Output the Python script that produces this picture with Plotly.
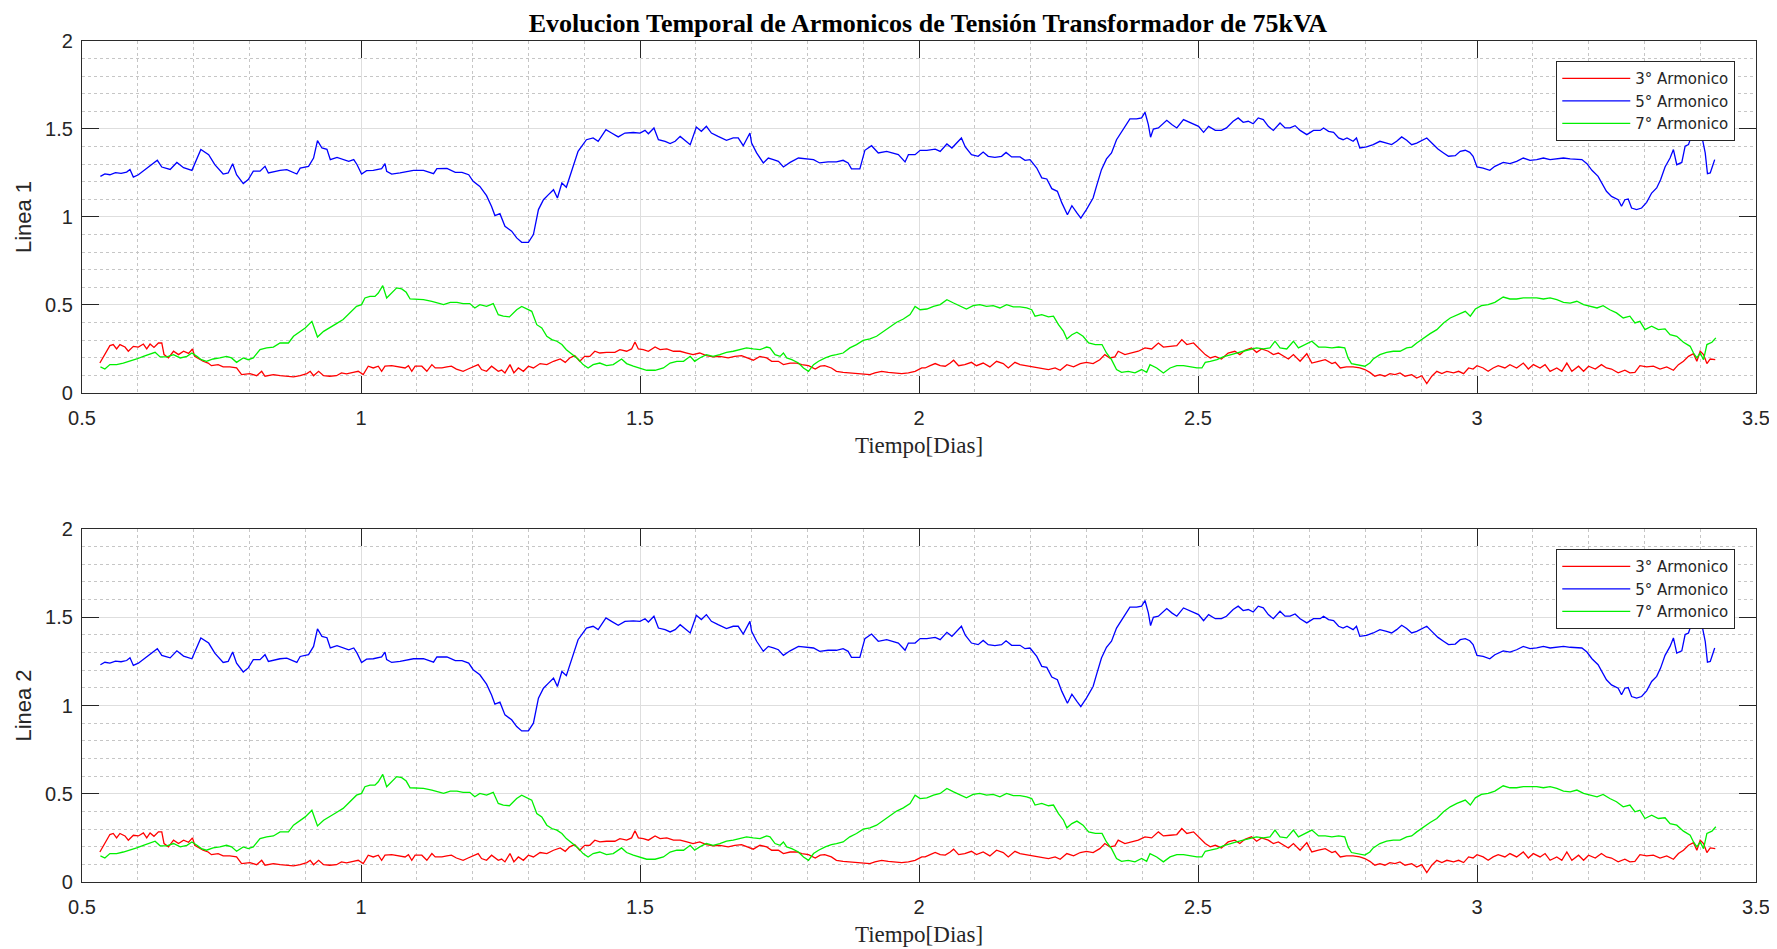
import plotly.graph_objects as go

# ---------------- data ----------------
x5 = [0.533,0.541,0.550,0.560,0.570,0.580,0.586,0.592,0.601,0.615,0.635,0.643,0.658,0.670,0.682,0.697,
      0.713,0.727,0.738,0.753,0.762,0.770,0.777,0.789,0.798,0.807,0.819,0.828,0.834,0.855,0.867,0.885,
      0.891,0.906,0.915,0.922,0.930,0.939,0.945,0.957,0.969,0.978,0.987,0.993,1.001,1.010,1.022,1.037,
      1.043,1.046,1.055,1.070,1.094,1.112,1.130,1.136,1.154,1.169,1.181,1.193,1.201,1.213,1.225,1.234,
      1.240,1.249,1.258,1.266,1.270,1.279,1.288,1.300,1.309,1.318,1.327,1.336,1.345,1.352,1.360,1.368,
      1.377,1.389,1.404,1.416,1.425,1.439,1.449,1.461,1.473,1.488,1.500,1.509,1.515,1.525,1.533,1.545,
      1.554,1.563,1.572,1.581,1.590,1.601,1.610,1.619,1.628,1.640,1.655,1.667,1.676,1.685,1.697,1.700,
      1.709,1.721,1.730,1.739,1.748,1.757,1.769,1.784,1.799,1.811,1.822,1.837,1.852,1.864,1.873,1.879,
      1.894,1.903,1.915,1.927,1.942,1.963,1.975,1.981,1.993,2.002,2.014,2.029,2.038,2.050,2.059,2.068,
      2.076,2.083,2.094,2.106,2.115,2.124,2.136,2.148,2.156,2.166,2.181,2.190,2.199,2.211,2.220,2.229,
      2.238,2.248,2.256,2.266,2.274,2.283,2.290,2.300,2.307,2.312,2.318,2.327,2.336,2.345,2.354,2.366,
      2.378,2.390,2.399,2.405,2.411,2.415,2.420,2.429,2.444,2.453,2.462,2.474,2.483,2.492,2.501,2.510,
      2.519,2.531,2.542,2.551,2.563,2.572,2.581,2.590,2.599,2.608,2.617,2.626,2.635,2.647,2.656,2.665,
      2.674,2.683,2.695,2.707,2.719,2.725,2.734,2.743,2.752,2.760,2.767,2.778,2.784,2.790,2.802,2.814,
      2.826,2.838,2.847,2.856,2.865,2.874,2.883,2.892,2.900,2.910,2.919,2.930,2.940,2.949,2.961,2.970,
      2.979,2.987,2.993,3.000,3.011,3.023,3.032,3.047,3.059,3.071,3.083,3.095,3.107,3.119,3.131,3.143,
      3.155,3.167,3.179,3.188,3.197,3.206,3.217,3.226,3.232,3.241,3.253,3.259,3.265,3.271,3.277,3.286,
      3.295,3.304,3.313,3.322,3.329,3.337,3.346,3.352,3.358,3.367,3.373,3.379,3.385,3.392,3.397,3.403,
      3.409,3.413,3.418,3.422,3.426]
y5 = [1.231,1.245,1.240,1.252,1.248,1.255,1.270,1.227,1.240,1.275,1.322,1.284,1.270,1.310,1.280,1.265,
      1.383,1.354,1.297,1.244,1.250,1.303,1.240,1.190,1.213,1.260,1.260,1.288,1.250,1.265,1.269,1.244,
      1.278,1.288,1.335,1.434,1.392,1.384,1.326,1.339,1.326,1.316,1.326,1.297,1.244,1.263,1.265,1.275,
      1.303,1.260,1.244,1.250,1.265,1.265,1.246,1.275,1.276,1.254,1.254,1.240,1.203,1.174,1.121,1.060,
      1.008,1.019,0.947,0.928,0.919,0.881,0.856,0.856,0.900,1.042,1.098,1.127,1.155,1.108,1.193,1.169,
      1.260,1.373,1.439,1.449,1.430,1.496,1.477,1.455,1.477,1.480,1.477,1.492,1.473,1.506,1.439,1.430,
      1.417,1.430,1.458,1.436,1.411,1.511,1.487,1.515,1.477,1.458,1.436,1.449,1.449,1.405,1.477,1.420,
      1.364,1.307,1.335,1.326,1.316,1.284,1.310,1.335,1.330,1.326,1.307,1.313,1.313,1.322,1.307,1.273,
      1.273,1.379,1.405,1.364,1.373,1.354,1.313,1.354,1.354,1.379,1.379,1.386,1.373,1.415,1.392,1.424,
      1.449,1.398,1.354,1.345,1.369,1.345,1.339,1.345,1.367,1.341,1.341,1.322,1.326,1.278,1.222,1.216,
      1.161,1.146,1.080,1.013,1.064,1.023,0.994,1.042,1.080,1.108,1.174,1.269,1.330,1.364,1.439,1.500,
      1.557,1.557,1.563,1.595,1.525,1.453,1.500,1.506,1.549,1.525,1.506,1.553,1.540,1.525,1.515,1.481,
      1.515,1.492,1.492,1.506,1.544,1.563,1.538,1.544,1.530,1.563,1.553,1.515,1.492,1.534,1.506,1.506,
      1.519,1.492,1.468,1.492,1.492,1.506,1.487,1.481,1.449,1.439,1.449,1.430,1.449,1.392,1.398,1.411,
      1.430,1.420,1.411,1.430,1.455,1.436,1.411,1.420,1.434,1.449,1.420,1.386,1.364,1.345,1.348,1.373,
      1.379,1.367,1.345,1.284,1.278,1.265,1.288,1.310,1.303,1.316,1.335,1.322,1.326,1.335,1.326,1.330,
      1.335,1.330,1.330,1.326,1.303,1.265,1.231,1.184,1.146,1.117,1.098,1.061,1.098,1.102,1.051,1.042,
      1.051,1.083,1.136,1.165,1.212,1.284,1.335,1.383,1.297,1.310,1.402,1.411,1.468,1.520,1.545,1.458,
      1.364,1.246,1.250,1.288,1.326]

x3 = [0.532,0.539,0.550,0.556,0.562,0.568,0.577,0.583,0.592,0.601,0.610,0.616,0.622,0.629,0.637,0.643,
      0.647,0.655,0.664,0.673,0.682,0.691,0.698,0.702,0.709,0.717,0.726,0.732,0.744,0.753,0.765,0.777,
      0.786,0.801,0.813,0.822,0.828,0.843,0.855,0.867,0.879,0.891,0.903,0.909,0.915,0.924,0.933,0.944,
      0.956,0.965,0.974,0.986,0.995,1.004,1.013,1.022,1.031,1.037,1.043,1.055,1.067,1.079,1.085,1.091,
      1.097,1.109,1.118,1.127,1.133,1.145,1.154,1.162,1.171,1.183,1.192,1.201,1.210,1.216,1.225,1.234,
      1.246,1.252,1.258,1.267,1.274,1.282,1.291,1.300,1.309,1.321,1.333,1.345,1.357,1.366,1.374,1.383,
      1.392,1.401,1.410,1.419,1.428,1.440,1.455,1.464,1.476,1.485,1.491,1.497,1.506,1.515,1.527,1.536,
      1.548,1.560,1.572,1.584,1.595,1.607,1.619,1.631,1.643,1.658,1.670,1.682,1.691,1.703,1.715,1.727,
      1.736,1.748,1.757,1.769,1.781,1.790,1.802,1.814,1.823,1.831,1.843,1.852,1.864,1.876,1.888,1.900,
      1.912,1.921,1.933,1.945,1.957,1.969,1.981,1.993,2.005,2.011,2.020,2.029,2.038,2.047,2.056,2.062,
      2.071,2.082,2.094,2.103,2.115,2.127,2.139,2.151,2.160,2.172,2.181,2.193,2.208,2.220,2.232,2.244,
      2.253,2.265,2.277,2.289,2.300,2.312,2.324,2.333,2.342,2.351,2.357,2.369,2.381,2.393,2.405,2.417,
      2.429,2.438,2.450,2.462,2.471,2.480,2.492,2.501,2.513,2.522,2.531,2.542,2.554,2.566,2.575,2.584,
      2.596,2.605,2.614,2.626,2.635,2.644,2.653,2.662,2.671,2.683,2.695,2.704,2.716,2.728,2.740,2.746,
      2.755,2.766,2.778,2.790,2.799,2.808,2.817,2.826,2.835,2.844,2.853,2.862,2.871,2.883,2.892,2.901,
      2.910,2.919,2.928,2.937,2.946,2.958,2.967,2.976,2.985,2.993,3.000,3.011,3.020,3.029,3.038,3.050,
      3.059,3.071,3.083,3.092,3.101,3.113,3.122,3.131,3.143,3.152,3.161,3.170,3.182,3.191,3.200,3.212,
      3.223,3.232,3.241,3.253,3.265,3.274,3.283,3.292,3.304,3.316,3.328,3.340,3.352,3.361,3.370,3.379,
      3.388,3.394,3.400,3.406,3.412,3.418,3.427]
y3 = [0.170,0.208,0.269,0.275,0.250,0.275,0.261,0.237,0.265,0.261,0.278,0.250,0.278,0.259,0.284,0.284,
      0.218,0.199,0.237,0.218,0.237,0.225,0.250,0.208,0.193,0.180,0.170,0.155,0.161,0.148,0.148,0.142,
      0.104,0.110,0.098,0.123,0.095,0.104,0.098,0.095,0.091,0.098,0.110,0.123,0.098,0.123,0.098,0.095,
      0.098,0.114,0.108,0.117,0.123,0.104,0.152,0.142,0.152,0.123,0.152,0.155,0.148,0.142,0.155,0.123,
      0.152,0.152,0.123,0.161,0.142,0.142,0.148,0.152,0.136,0.123,0.136,0.148,0.161,0.133,0.123,0.152,
      0.123,0.130,0.114,0.161,0.114,0.142,0.123,0.152,0.142,0.167,0.161,0.180,0.193,0.174,0.199,0.212,
      0.180,0.208,0.208,0.237,0.227,0.231,0.231,0.246,0.237,0.250,0.290,0.250,0.246,0.237,0.261,0.246,
      0.250,0.237,0.237,0.227,0.218,0.227,0.212,0.205,0.208,0.199,0.208,0.212,0.199,0.186,0.208,0.199,
      0.180,0.180,0.161,0.170,0.170,0.161,0.155,0.136,0.152,0.155,0.142,0.123,0.117,0.114,0.110,0.108,
      0.104,0.114,0.123,0.117,0.114,0.110,0.114,0.123,0.142,0.142,0.155,0.167,0.155,0.152,0.170,0.186,
      0.155,0.161,0.174,0.155,0.170,0.148,0.180,0.167,0.142,0.174,0.161,0.155,0.148,0.142,0.133,0.142,
      0.129,0.161,0.148,0.167,0.174,0.167,0.189,0.218,0.199,0.205,0.237,0.218,0.227,0.237,0.256,0.250,
      0.284,0.261,0.265,0.269,0.303,0.275,0.284,0.256,0.218,0.199,0.208,0.193,0.227,0.237,0.218,0.242,
      0.256,0.231,0.250,0.237,0.218,0.227,0.208,0.193,0.218,0.180,0.223,0.170,0.180,0.189,0.167,0.174,
      0.142,0.148,0.148,0.142,0.133,0.117,0.095,0.104,0.095,0.110,0.104,0.114,0.095,0.104,0.085,0.098,
      0.053,0.095,0.123,0.110,0.123,0.114,0.123,0.110,0.142,0.136,0.155,0.142,0.123,0.142,0.155,0.142,
      0.161,0.142,0.170,0.136,0.161,0.142,0.161,0.123,0.142,0.123,0.170,0.123,0.152,0.123,0.152,0.136,
      0.161,0.142,0.136,0.114,0.129,0.114,0.117,0.155,0.148,0.152,0.136,0.148,0.129,0.161,0.180,0.208,
      0.223,0.180,0.237,0.218,0.167,0.193,0.189]

x7 = [0.533,0.541,0.550,0.562,0.574,0.586,0.598,0.610,0.622,0.631,0.640,0.652,0.664,0.676,0.688,0.697,
      0.706,0.714,0.723,0.735,0.747,0.759,0.768,0.777,0.789,0.798,0.807,0.819,0.831,0.843,0.855,0.870,
      0.879,0.891,0.900,0.912,0.918,0.922,0.933,0.944,0.956,0.968,0.980,0.992,1.001,1.007,1.016,1.025,
      1.031,1.039,1.046,1.055,1.064,1.073,1.081,1.088,1.100,1.112,1.127,1.136,1.148,1.160,1.172,1.183,
      1.195,1.204,1.213,1.225,1.237,1.246,1.255,1.266,1.279,1.288,1.297,1.306,1.315,1.324,1.333,1.342,
      1.351,1.360,1.368,1.377,1.389,1.398,1.407,1.416,1.428,1.440,1.452,1.467,1.476,1.488,1.500,1.512,
      1.527,1.542,1.554,1.566,1.578,1.590,1.598,1.607,1.619,1.631,1.643,1.655,1.667,1.679,1.691,1.703,
      1.715,1.727,1.733,1.742,1.751,1.757,1.763,1.772,1.784,1.793,1.802,1.811,1.820,1.832,1.843,1.852,
      1.864,1.876,1.888,1.900,1.912,1.924,1.936,1.948,1.960,1.972,1.984,1.993,2.002,2.014,2.026,2.038,
      2.050,2.062,2.074,2.085,2.097,2.109,2.121,2.133,2.145,2.157,2.169,2.181,2.193,2.202,2.208,2.220,
      2.232,2.241,2.250,2.259,2.265,2.274,2.283,2.294,2.304,2.316,2.328,2.336,2.345,2.354,2.363,2.375,
      2.387,2.399,2.408,2.414,2.426,2.438,2.450,2.462,2.474,2.486,2.498,2.507,2.513,2.522,2.534,2.545,
      2.557,2.569,2.581,2.593,2.605,2.617,2.629,2.638,2.647,2.659,2.671,2.680,2.692,2.704,2.716,2.728,
      2.740,2.752,2.763,2.769,2.775,2.787,2.799,2.808,2.814,2.826,2.838,2.850,2.862,2.874,2.883,2.892,
      2.904,2.916,2.928,2.940,2.952,2.964,2.979,2.988,2.997,3.008,3.020,3.032,3.047,3.059,3.071,3.083,
      3.095,3.107,3.119,3.131,3.143,3.155,3.167,3.179,3.191,3.203,3.215,3.226,3.238,3.250,3.262,3.274,
      3.283,3.292,3.301,3.313,3.325,3.337,3.346,3.358,3.370,3.382,3.388,3.394,3.400,3.406,3.412,3.421,
      3.428]
y7 = [0.148,0.136,0.161,0.161,0.170,0.180,0.193,0.208,0.223,0.231,0.205,0.205,0.218,0.199,0.208,0.227,
      0.208,0.189,0.180,0.193,0.199,0.208,0.199,0.174,0.199,0.189,0.199,0.246,0.256,0.261,0.284,0.284,
      0.322,0.350,0.369,0.407,0.360,0.318,0.350,0.369,0.394,0.417,0.455,0.492,0.502,0.540,0.549,0.549,
      0.568,0.610,0.540,0.568,0.597,0.591,0.572,0.534,0.534,0.530,0.521,0.511,0.502,0.515,0.515,0.508,
      0.508,0.483,0.502,0.492,0.508,0.445,0.436,0.432,0.473,0.492,0.477,0.464,0.388,0.369,0.322,0.303,
      0.294,0.275,0.246,0.223,0.193,0.161,0.142,0.161,0.170,0.155,0.161,0.193,0.167,0.152,0.142,0.129,
      0.129,0.142,0.170,0.180,0.180,0.208,0.180,0.199,0.218,0.208,0.218,0.231,0.237,0.246,0.256,0.250,
      0.246,0.261,0.256,0.218,0.208,0.227,0.199,0.189,0.170,0.142,0.123,0.161,0.180,0.199,0.212,0.218,
      0.227,0.256,0.275,0.299,0.307,0.322,0.350,0.379,0.402,0.420,0.445,0.492,0.473,0.477,0.492,0.502,
      0.530,0.511,0.492,0.477,0.496,0.502,0.492,0.496,0.483,0.502,0.489,0.489,0.483,0.473,0.436,0.445,
      0.432,0.436,0.388,0.350,0.307,0.331,0.345,0.322,0.284,0.275,0.275,0.227,0.189,0.133,0.117,0.123,
      0.114,0.133,0.117,0.161,0.142,0.114,0.142,0.155,0.155,0.148,0.142,0.142,0.174,0.180,0.189,0.205,
      0.218,0.227,0.237,0.246,0.256,0.250,0.256,0.294,0.256,0.250,0.294,0.256,0.275,0.294,0.261,0.261,
      0.256,0.261,0.256,0.199,0.167,0.161,0.152,0.170,0.193,0.218,0.231,0.237,0.237,0.256,0.261,0.284,
      0.313,0.337,0.360,0.398,0.426,0.445,0.464,0.436,0.477,0.496,0.502,0.515,0.545,0.534,0.534,0.540,
      0.540,0.540,0.534,0.540,0.530,0.515,0.511,0.521,0.502,0.492,0.483,0.496,0.473,0.455,0.426,0.436,
      0.398,0.407,0.360,0.379,0.360,0.364,0.331,0.322,0.288,0.265,0.227,0.199,0.227,0.189,0.275,0.288,
      0.313]

series_names = ["3° Armonico", "5° Armonico", "7° Armonico"]
series_colors = ["#ff0000", "#0000ff", "#00f000"]
title_text = "Evolucion Temporal de Armonicos de Tensión Transformador de 75kVA"
x_title = "Tiempo[Dias]"
y_titles = ["Linea 1", "Linea 2"]

# ---------------- figure ----------------
fig = go.Figure()
data_sets = [(x3, y3), (x5, y5), (x7, y7)]

axes_pairs = [("x", "y", "legend"), ("x2", "y2", "legend2")]
for xa, ya, lg in axes_pairs:
    for (xs, ys), name, col in zip(data_sets, series_names, series_colors):
        fig.add_trace(go.Scatter(x=xs, y=ys, mode="lines", name=name,
                                 line=dict(color=col, width=1.3),
                                 xaxis=xa, yaxis=ya, legend=lg))

tick_font = dict(family="Liberation Sans, Arial, sans-serif", size=20, color="#262626")
axis_common = dict(showline=True, linecolor="#2b2b2b", linewidth=1.2, mirror="ticks",
                   ticks="inside", ticklen=17, tickwidth=1.3, tickcolor="#262626",
                   showgrid=True, gridcolor="#dedede", gridwidth=1, zeroline=False,
                   tickfont=tick_font, automargin=False,
                   minor=dict(dtick=0.1, showgrid=True, gridcolor="#c6c6c6",
                              griddash="dot", gridwidth=1, ticks=""))

xaxis_cfg = dict(axis_common, range=[0.5, 3.5], dtick=0.5, tick0=0.5, ticklabelstandoff=7,
                 title=dict(text=x_title, standoff=8,
                            font=dict(family="Liberation Serif, Times New Roman, serif",
                                      size=23, color="#262626")))
yaxis_cfg = dict(axis_common, range=[0, 2], dtick=0.5, tick0=0, ticklabelstandoff=4)

top_dom = [0.5815, 1.0]
bot_dom = [0.0, 0.4197]

legend_common = dict(xref="paper", yref="paper", xanchor="right", yanchor="top",
                     bgcolor="white", bordercolor="#262626", borderwidth=1.2,
                     font=dict(family="DejaVu Sans, Liberation Sans, sans-serif", size=15, color="#262626"),
                     itemwidth=68, tracegroupgap=0)

fig.update_layout(
    width=1769, height=941,
    margin=dict(l=74, r=21, t=33, b=67),
    paper_bgcolor="white", plot_bgcolor="white",
    showlegend=True,
    title=dict(text="<b>" + title_text + "</b>", x=0.520, xanchor="center",
               y=1 - 14.5 / 941, yanchor="middle",
               font=dict(family="Liberation Serif, Times New Roman, serif", size=26, color="#000000")),
    xaxis=dict(xaxis_cfg, domain=[0, 1], anchor="y"),
    yaxis=dict(yaxis_cfg, domain=top_dom, anchor="x",
               title=dict(text=y_titles[0], standoff=7,
                          font=dict(family="Liberation Sans, Arial, sans-serif", size=22, color="#262626"))),
    xaxis2=dict(xaxis_cfg, domain=[0, 1], anchor="y2"),
    yaxis2=dict(yaxis_cfg, domain=bot_dom, anchor="x2",
                title=dict(text=y_titles[1], standoff=7,
                           font=dict(family="Liberation Sans, Arial, sans-serif", size=22, color="#262626"))),
    legend=dict(legend_common, x=0.9875, y=0.9762),
    legend2=dict(legend_common, x=0.9875, y=0.3960),
)

fig.write_html("out.html")
